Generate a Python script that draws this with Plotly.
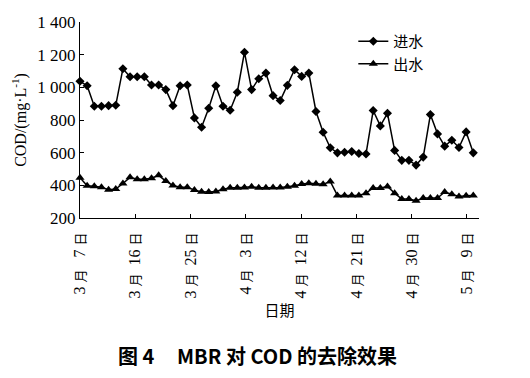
import plotly.graph_objects as go

# point index (one per sampling day)
idx = list(range(56))

inflow = [1037, 1010, 884, 884, 888, 890, 1114, 1065, 1065, 1065,
          1014, 1014, 986, 888, 1010, 1014, 813, 756, 872, 1009,
          884, 860, 970, 1215, 986, 1053, 1087, 949, 919, 1012,
          1108, 1067, 1087, 852, 725, 630, 599, 603, 607, 595,
          592, 858, 764, 841, 614, 553, 553, 524, 573, 833,
          715, 640, 676, 632, 727, 599]

outflow = [447, 397, 394, 389, 373, 377, 411, 449, 438, 438,
           444, 461, 426, 399, 388, 389, 371, 360, 359, 362,
           376, 385, 385, 386, 391, 385, 385, 386, 386, 391,
           397, 408, 412, 409, 406, 424, 338, 338, 338, 338,
           352, 384, 384, 393, 352, 316, 316, 305, 322, 322,
           322, 359, 346, 332, 336, 338]

x_tick_pos = [0, 7.73, 15.46, 23.19, 30.92, 38.65, 46.38, 54.11]
x_tick_month = ["3", "3", "3", "4", "4", "4", "4", "5"]
x_tick_day = [" 7", "16", "25", " 3", "12", "21", "30", " 9"]

y_tick_vals = [200, 400, 600, 800, 1000, 1200, 1400]
y_tick_text = ["200", "400", "600", "800", "1 000", "1 200", "1 400"]

CJ = "<span style='font-size:13px;font-family:Noto Sans CJK SC'>{}</span>"
x_tick_text = [f"{m} {CJ.format('月')}  {d} {CJ.format('日')}" for m, d in zip(x_tick_month, x_tick_day)]

SERIF = "Liberation Serif, Noto Sans CJK SC"

fig = go.Figure()
fig.add_trace(go.Scatter(
    x=idx, y=inflow, name="进水", mode="lines+markers",
    line=dict(color="black", width=1.5),
    marker=dict(symbol="diamond", size=7, color="black"),
    cliponaxis=False,
))
fig.add_trace(go.Scatter(
    x=idx, y=outflow, name="出水", mode="lines+markers",
    line=dict(color="black", width=1.5),
    marker=dict(symbol="triangle-up", size=8, color="black"),
    cliponaxis=False,
))

fig.update_layout(
    width=530, height=378,
    margin=dict(l=80, r=51, t=22, b=160, autoexpand=False),
    paper_bgcolor="white", plot_bgcolor="white",
    font=dict(family=SERIF, color="black", size=16),
    showlegend=True,
    legend=dict(x=0.685, y=0.985, xanchor="left", yanchor="top",
                font=dict(family="Noto Sans CJK SC", size=15),
                bgcolor="rgba(0,0,0,0)", itemwidth=30, tracegroupgap=2),
    xaxis=dict(
        range=[0, 55.8], showgrid=False, zeroline=False,
        showline=True, linecolor="black", linewidth=1.2,
        ticks="inside", ticklen=4, tickcolor="black",
        tickvals=x_tick_pos, ticktext=x_tick_text, tickangle=-90,
        tickfont=dict(family=SERIF, size=16), ticklabelstandoff=7,
        title=dict(text="日期", font=dict(family="Noto Sans CJK SC", size=15), standoff=6),
    ),
    yaxis=dict(
        range=[200, 1400], showgrid=False, zeroline=False,
        showline=True, linecolor="black", linewidth=1.2,
        ticks="inside", ticklen=4, tickcolor="black",
        tickvals=y_tick_vals, ticktext=y_tick_text,
        tickfont=dict(family=SERIF, size=17),
        title=dict(text="COD/(mg·L<sup>-1</sup>)", font=dict(family=SERIF, size=16), standoff=6),
    ),
    annotations=[dict(
        text="<b>图 4     MBR 对 COD 的去除效果</b>",
        xref="paper", yref="paper", x=0.445, y=-0.70, xanchor="center", yanchor="middle",
        showarrow=False, font=dict(family="Noto Sans CJK SC", size=20),
    )],
)

fig.write_html("out.html", config={"displayModeBar": False},
               post_script="document.body.style.margin='0';")
